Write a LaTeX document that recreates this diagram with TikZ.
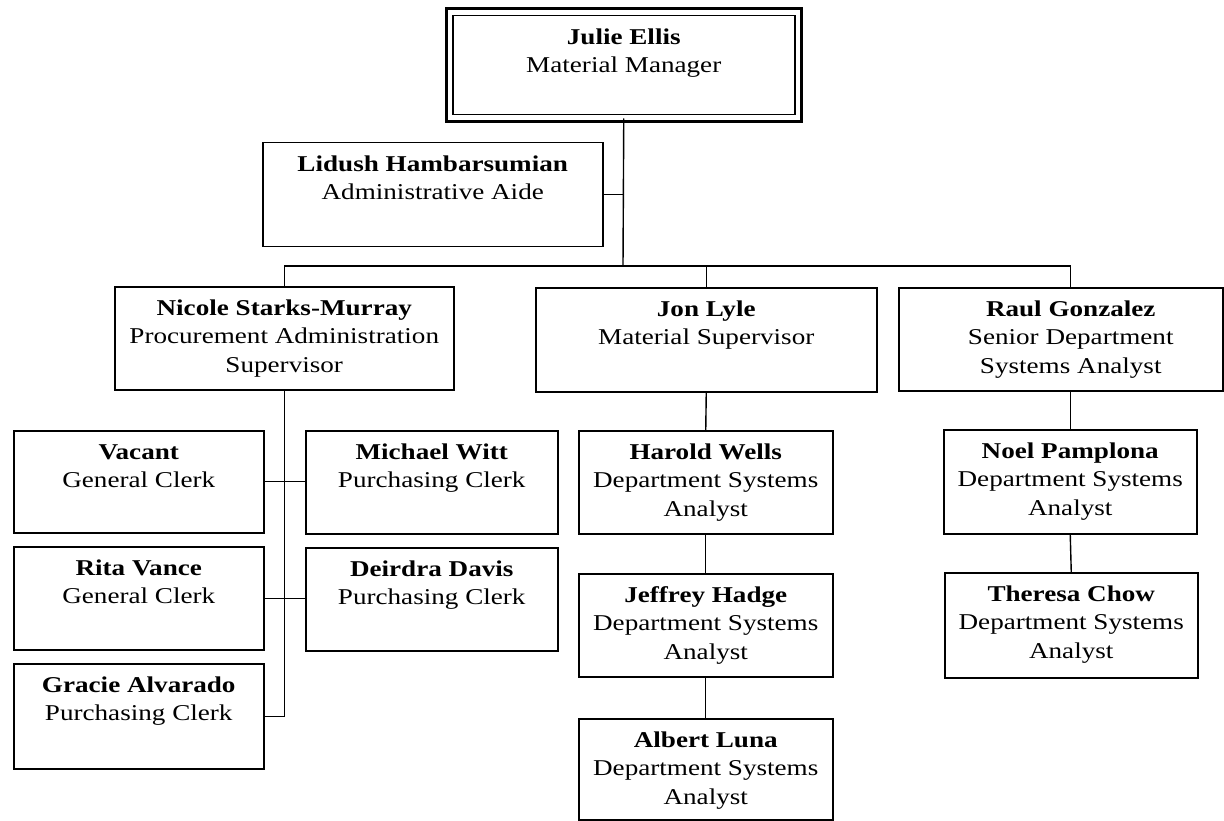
\documentclass[tikz,border=0pt]{standalone}
\usepackage{fontspec}
\setmainfont{Liberation Serif}[FakeStretch=1.2]
\newcommand{\person}[4]{\parbox[c][#2pt][t]{#1pt}{\centering\rule{0pt}{28.5pt}\textbf{#3}\\#4}}

\begin{document}
\begin{tikzpicture}[x=1pt, y=-1pt,
    box/.style={draw, line width=1.5pt, inner sep=0pt, anchor=north west,
      font=\fontsize{22.6}{28.5}\selectfont},
    link/.style={line width=1.4pt}]
  \useasboundingbox (0,0) rectangle (1224,821);

  % top of the chart
  \node[box] (je) at (452,15) {\person{342}{99}{Julie Ellis}{Material Manager}};
  \draw[line width=3pt] ([shift={(-6,-6)}]je.north west) rectangle ([shift={(6,6)}]je.south east);
  \node[box] (lh) at (262,142) {\person{340}{104}{Lidush Hambarsumian}{Administrative Aide}};

  % supervisors
  \node[box] (ns) at (114,286) {\person{339}{103}{Nicole Starks-Murray}{Procurement Administration\\Supervisor}};
  \node[box] (jl) at (535,287) {\person{341}{104}{Jon Lyle}{Material Supervisor}};
  \node[box] (rg) at (898,287) {\person{324}{103}{\hspace*{20pt}Raul Gonzalez}{\hspace*{20pt}Senior Department\\\hspace*{20pt}Systems Analyst}};

  % clerks
  \node[box] (va) at (13,430) {\person{250}{102}{Vacant}{General Clerk}};
  \node[box] (mw) at (305,430) {\person{252}{103}{Michael Witt}{Purchasing Clerk}};
  \node[box] (rv) at (13,546) {\person{250}{103}{Rita Vance}{General Clerk}};
  \node[box] (dd) at (305,547) {\person{252}{103}{Deirdra Davis}{Purchasing Clerk}};
  \node[box] (ga) at (13,663) {\person{250}{105}{Gracie Alvarado}{Purchasing Clerk}};

  % analysts
  \node[box] (hw) at (578,430) {\person{254}{103}{Harold Wells}{Department Systems\\Analyst}};
  \node[box] (jh) at (578,573) {\person{254}{103}{Jeffrey Hadge}{Department Systems\\Analyst}};
  \node[box] (al) at (578,718) {\person{254}{101}{Albert Luna}{Department Systems\\Analyst}};
  \node[box] (np) at (943,429) {\person{253}{104}{Noel Pamplona}{Department Systems\\Analyst}};
  \node[box] (tc) at (944,572) {\person{253}{105}{Theresa Chow}{Department Systems\\Analyst}};

  % lines
  \coordinate (bus) at (623,266);
  \draw[link] ([yshift=-3pt]je.south) -- (bus);
  \draw[link] (lh.east) -- (lh.east -| bus);
  \draw[link] (ns.north) -- (ns.north |- bus) -- (np.north |- bus) -- (np.north |- rg.north);
  \draw[link] (jl.north) -- (jl.north |- bus);
  \coordinate (nsend) at (ns.south |- ga.east);
  \draw[link] (ns.south) -- (nsend) -- (ga.east);
  \draw[link] (va.east) -- (va.east -| mw.west);
  \draw[link] (rv.east) -- (rv.east -| dd.west);
  \draw[link] (jl.south) -- (hw.north);
  \draw[link] (hw.south) -- (jh.north);
  \draw[link] (jh.south) -- (al.north);
  \draw[link] (rg.south -| np.north) -- (np.north);
  \draw[link] (np.south) -- (tc.north);
\end{tikzpicture}
\end{document}
